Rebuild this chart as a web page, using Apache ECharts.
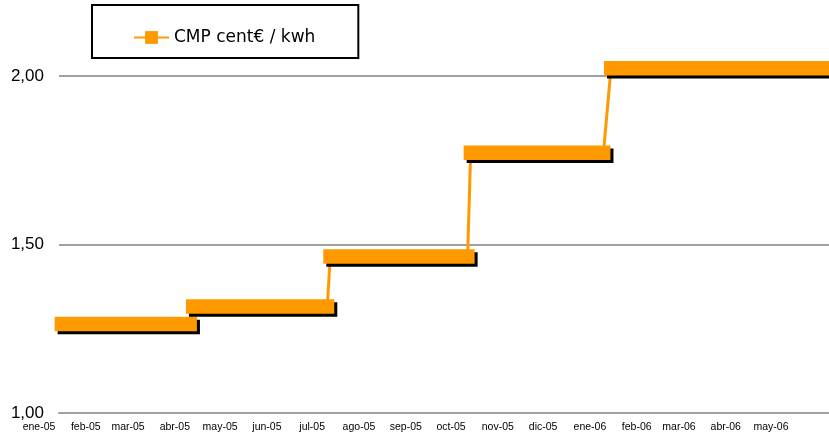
<!DOCTYPE html>
<html>
<head>
<meta charset="utf-8">
<script src="https://cdn.jsdelivr.net/npm/echarts@6/dist/echarts.min.js"></script>
<style>
  html, body { margin: 0; padding: 0; background: #fff; }
  #chart { width: 829px; height: 444px; }
</style>
</head>
<body>
<div id="chart"></div>
<script>
// datos: tramos del CMP (inicio, fin, valor)
const stepStart = ['2005-01-16', '2005-04-13', '2005-07-13', '2005-10-14', '2006-01-15'];
const stepEnd = ['2005-04-11', '2005-07-11', '2005-10-12', '2006-01-10', '2006-06-20'];
const stepValue = [1.265, 1.317, 1.465, 1.773, 2.024];
const monthNames = ['ene', 'feb', 'mar', 'abr', 'may', 'jun', 'jul', 'ago', 'sep', 'oct', 'nov', 'dic'];
const yTicks = [1.0, 1.5, 2.0];
const seriesName = 'CMP cent€ / kwh';

const orange = '#FF9900';
const font = 'Liberation Sans, Arial, sans-serif';
const DAY = 86400000;

// calibración del eje de fechas: ene-05 en x=39, ~1.509 px por día
const t0 = new Date(2005, 0, 1).getTime();
const dayPx = 732 / 485;
const dateAtX = (x) => t0 + ((x - 39) / dayPx) * DAY;

const toTime = (s) => {
  const p = s.split('-').map(Number);
  return new Date(p[0], p[1] - 1, p[2]).getTime();
};

// línea fina que une los tramos
const lineData = [];
stepValue.forEach((v, i) => {
  lineData.push([toTime(stepStart[i]), v]);
  lineData.push([toTime(stepEnd[i]), v]);
});
const bandData = stepValue.map((v, i) => [toTime(stepStart[i]), toTime(stepEnd[i]), v]);

const myChart = echarts.init(document.getElementById('chart'));

const option = {
  backgroundColor: '#fff',
  animation: false,
  legend: {
    data: [seriesName],
    left: 92,
    top: 5,
    padding: [24, 43, 12, 41],
    borderColor: '#000',
    borderWidth: 2,
    itemWidth: 35,
    itemHeight: 16,
    textStyle: { fontFamily: 'DejaVu Sans, Verdana, sans-serif', fontSize: 17, color: '#000' },
  },
  grid: [
    { left: 59, right: 0, top: 76, bottom: 31 },
    { left: 0, right: 22, top: 76, bottom: 31 },
  ],
  xAxis: [
    {
      type: 'time',
      gridIndex: 0,
      min: dateAtX(59),
      max: dateAtX(829),
      axisLine: { show: true, lineStyle: { color: '#a0a0a0', width: 2 } },
      axisTick: { show: false },
      axisLabel: { show: false },
      splitLine: { show: false },
    },
    {
      type: 'time',
      gridIndex: 1,
      min: dateAtX(0),
      max: dateAtX(807),
      splitNumber: 18,
      axisLine: { show: false },
      axisTick: { show: false },
      splitLine: { show: false },
      axisLabel: {
        margin: 9,
        fontFamily: font,
        fontSize: 10.5,
        color: '#000',
        formatter: function (value) {
          const d = new Date(value);
          if (d.getDate() !== 1 || d.getHours() !== 0) return '';
          return monthNames[d.getMonth()] + '-' + String(d.getFullYear()).slice(2);
        },
      },
    },
  ],
  yAxis: [
    {
      type: 'value',
      gridIndex: 0,
      min: yTicks[0],
      max: yTicks[yTicks.length - 1],
      interval: 0.5,
      axisLine: { show: false },
      axisTick: { show: false },
      axisLabel: {
        margin: 15,
        fontFamily: font,
        fontSize: 17,
        color: '#000',
        formatter: (v) => v.toFixed(2).replace('.', ','),
      },
      splitLine: { show: true, lineStyle: { color: '#a0a0a0', width: 2 } },
    },
    { type: 'value', gridIndex: 1, show: false, min: 1, max: 2 },
  ],
  series: [
    {
      name: seriesName,
      type: 'line',
      xAxisIndex: 0,
      yAxisIndex: 0,
      data: lineData,
      symbol: 'rect',
      showSymbol: false,
      clip: false,
      color: orange,
      lineStyle: { color: orange, width: 3 },
      z: 2,
    },
    {
      type: 'custom',
      xAxisIndex: 0,
      yAxisIndex: 0,
      data: bandData,
      encode: { x: [0, 1], y: 2 },
      clip: false,
      z: 3,
      renderItem: function (params, api) {
        const a = api.coord([api.value(0), api.value(2)]);
        const b = api.coord([api.value(1), api.value(2)]);
        const x = a[0] - 7;
        const y = a[1] - 7;
        const w = b[0] - a[0] + 14;
        const h = 14.5;
        return {
          type: 'group',
          children: [
            { type: 'rect', shape: { x: x + 3, y: y + 3, width: w, height: h }, style: { fill: '#000' } },
            { type: 'rect', shape: { x: x, y: y, width: w, height: h }, style: { fill: orange } },
          ],
        };
      },
    },
  ],
};

myChart.setOption(option);

window.addEventListener('resize', () => {
  myChart.resize();
});
</script>
</body>
</html>
